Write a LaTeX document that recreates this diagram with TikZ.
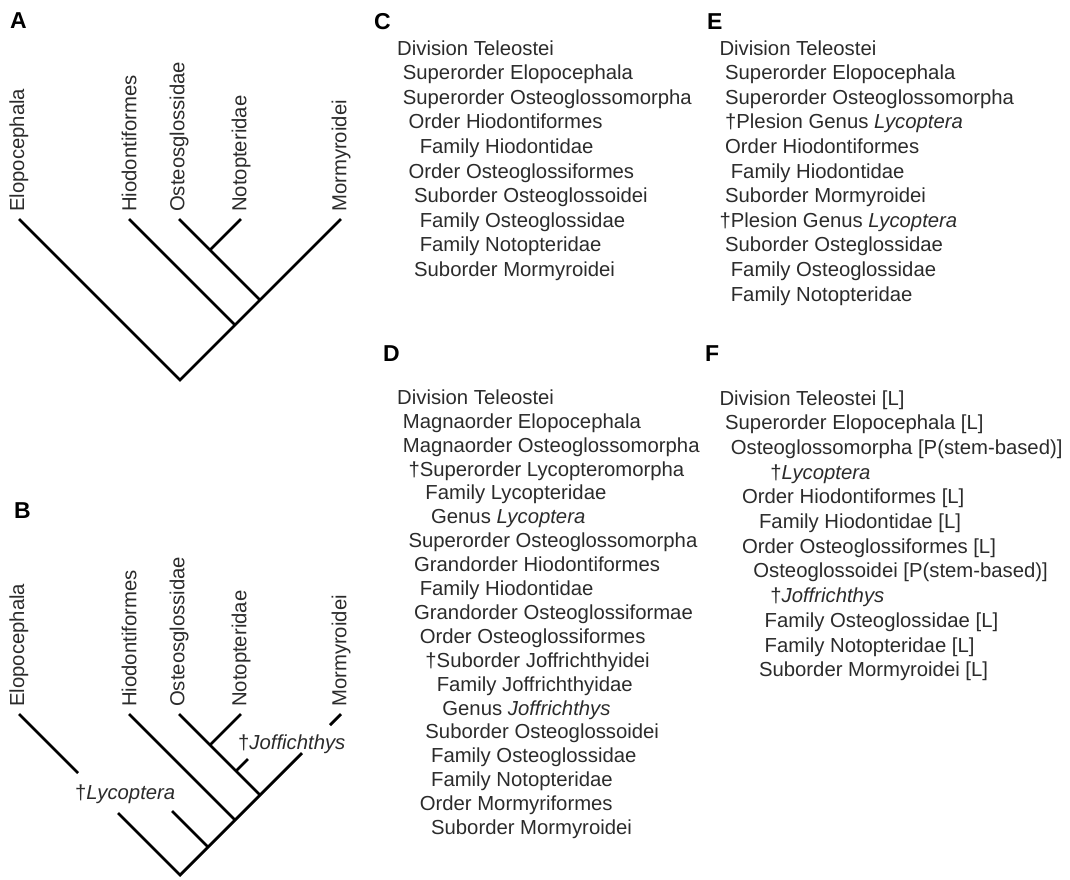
\documentclass[tikz,border=0pt]{standalone}
\usepackage{fontspec}
\setmainfont{Liberation Sans}
\usetikzlibrary{positioning}
\definecolor{inkGray}{HTML}{2B2B2B}

\begin{document}
\begin{tikzpicture}[x=1pt,y=-1pt,
  branch/.style={line width=2.8pt},
  taxon/.style={rotate=90,anchor=west,inner sep=0pt,text=inkGray,font=\fontsize{20.3}{24}\selectfont},
  entry/.style={anchor=base west,inner sep=0pt,text=inkGray,font=\fontsize{20.3}{24}\selectfont},
  panel/.style={anchor=north west,inner sep=0pt,font=\fontsize{23}{26}\selectfont\bfseries}]
  \useasboundingbox (0,0) rectangle (1070,879);

  \node[panel] (pA) at (10,12) {A};
  \node[panel] (pB) at (14,502) {B};
  \node[panel] (pC) at (374,13) {C};
  \node[panel] (pD) at (383,345) {D};
  \node[panel] (pE) at (707,13) {E};
  \node[panel] (pF) at (705,345) {F};

  % tree A
  \coordinate (aroot) at (180,380);
  \coordinate (aE) at (19,219);
  \coordinate (aM) at (341,219);
  \coordinate (aHn) at (235,325);
  \coordinate (aH) at (129,219);
  \coordinate (aOn) at (260,300);
  \coordinate (aO) at (179,219);
  \coordinate (aNn) at (210,250);
  \coordinate (aN) at (241,219);
  \draw[branch] (aE) -- (aroot) -- (aM);
  \draw[branch] (aHn) -- (aH);
  \draw[branch] (aOn) -- (aO);
  \draw[branch] (aNn) -- (aN);
  \node[taxon] (aEl) at ([yshift=7pt]aE) {Elopocephala};
  \node[taxon] (aHl) at ([yshift=7pt]aH) {Hiodontiformes};
  \node[taxon] (aOl) at ([yshift=7pt]aO) {Osteosglossidae};
  \node[taxon] (aNl) at ([yshift=7pt]aN) {Notopteridae};
  \node[taxon] (aMl) at ([yshift=7pt]aM) {Mormyroidei};

  % tree B
  \coordinate (broot) at (180,875);
  \coordinate (bE) at (19,714);
  \coordinate (bM) at (341,714);
  \coordinate (bHn) at (235,820);
  \coordinate (bH) at (129,714);
  \coordinate (bOn) at (260,795);
  \coordinate (bO) at (179,714);
  \coordinate (bNn) at (210,745);
  \coordinate (bN) at (241,714);
  \coordinate (bLn) at (208,847);
  \coordinate (bL) at (172,811);
  \coordinate (bJn) at (236,771);
  \coordinate (bJ) at (248,759);
  \coordinate (bEa) at (78,773);
  \coordinate (bEb) at (118,813);
  \coordinate (bMa) at (302,753);
  \coordinate (bMb) at (330,725);
  \draw[branch] (bE) -- (bEa);
  \draw[branch] (bEb) -- (broot) -- (bMa);
  \draw[branch] (bMb) -- (bM);
  \draw[branch] (bHn) -- (bH);
  \draw[branch] (bOn) -- (bO);
  \draw[branch] (bNn) -- (bN);
  \draw[branch] (bLn) -- (bL);
  \draw[branch] (bJn) -- (bJ);
  \node[taxon] (bEl) at ([yshift=7pt]bE) {Elopocephala};
  \node[taxon] (bHl) at ([yshift=7pt]bH) {Hiodontiformes};
  \node[taxon] (bOl) at ([yshift=7pt]bO) {Osteosglossidae};
  \node[taxon] (bNl) at ([yshift=7pt]bN) {Notopteridae};
  \node[taxon] (bMl) at ([yshift=7pt]bM) {Mormyroidei};
  \node[entry] (bLl) at (75,799) {†\textit{Lycoptera}};
  \node[entry] (bJl) at (238,749) {†\textit{Joffichthys}};

  % classifications C--F
  \foreach \n/\txt [count=\i] in {0/{Division Teleostei},1/{Superorder Elopocephala},
      1/{Superorder Osteoglossomorpha},2/{Order Hiodontiformes},4/{Family Hiodontidae},
      2/{Order Osteoglossiformes},3/{Suborder Osteoglossoidei},4/{Family Osteoglossidae},
      4/{Family Notopteridae},3/{Suborder Mormyroidei}}
    \node[entry] (c\i) at (397+5.65*\n,55+24.6*\i-24.6) {\txt};

  \foreach \n/\txt [count=\i] in {0/{Division Teleostei},1/{Superorder Elopocephala},
      1/{Superorder Osteoglossomorpha},1/{†Plesion Genus \textit{Lycoptera}},
      1/{Order Hiodontiformes},2/{Family Hiodontidae},1/{Suborder Mormyroidei},
      0/{†Plesion Genus \textit{Lycoptera}},1/{Suborder Osteglossidae},
      2/{Family Osteoglossidae},2/{Family Notopteridae}}
    \node[entry] (e\i) at (719.3+5.65*\n,55+24.6*\i-24.6) {\txt};

  \foreach \n/\txt [count=\i] in {0/{Division Teleostei},1/{Magnaorder Elopocephala},
      1/{Magnaorder Osteoglossomorpha},2/{†Superorder Lycopteromorpha},
      5/{Family Lycopteridae},6/{Genus \textit{Lycoptera}},
      2/{Superorder Osteoglossomorpha},3/{Grandorder Hiodontiformes},
      4/{Family Hiodontidae},3/{Grandorder Osteoglossiformae},
      4/{Order Osteoglossiformes},5/{†Suborder Joffrichthyidei},
      7/{Family Joffrichthyidae},8/{Genus \textit{Joffrichthys}},
      5/{Suborder Osteoglossoidei},6/{Family Osteoglossidae},
      6/{Family Notopteridae},4/{Order Mormyriformes},6/{Suborder Mormyroidei}}
    \node[entry] (d\i) at (397+5.65*\n,404.3+23.9*\i-23.9) {\txt};

  \foreach \n/\txt [count=\i] in {0/{Division Teleostei [L]},1/{Superorder Elopocephala [L]},
      2/{Osteoglossomorpha [P(stem-based)]},9/{†\textit{Lycoptera}},
      4/{Order Hiodontiformes [L]},7/{Family Hiodontidae [L]},
      4/{Order Osteoglossiformes [L]},6/{Osteoglossoidei [P(stem-based)]},
      9/{†\textit{Joffrichthys}},8/{Family Osteoglossidae [L]},
      8/{Family Notopteridae [L]},7/{Suborder Mormyroidei [L]}}
    \node[entry] (f\i) at (719.3+5.65*\n,405+24.7*\i-24.7) {\txt};
\end{tikzpicture}
\end{document}
